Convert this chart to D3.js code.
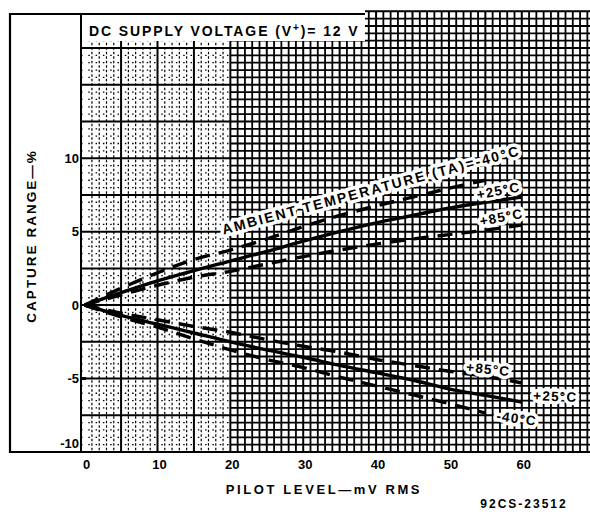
<!DOCTYPE html>
<html>
<head>
<meta charset="utf-8">
<script src="https://cdn.jsdelivr.net/npm/d3@7"></script>
<style>
  body { margin: 0; background: #fff; }
  svg { display: block; }
  text { font-family: "Liberation Sans", Arial, sans-serif; font-weight: bold; fill: #000; }
  .halo { paint-order: stroke; stroke: #fff; stroke-width: 7px; stroke-linejoin: round; }
</style>
</head>
<body>
<div id="chart"></div>
<script>
// values (capture range in %, vs pilot level in mV rms)
var pilotMv = [0, 5, 10, 15, 20, 25, 30, 35, 40, 45, 50, 55, 60];
var upperM40 = [0, 1.15, 2.2, 3.1, 3.75, 4.5, 5.35, 6.1, 6.75, 7.35, 7.95, 8.5, null];
var upper25 = [0, 0.85, 1.65, 2.35, 3.0, 3.65, 4.35, 5.0, 5.6, 6.1, 6.6, 7.0, 7.35];
var upper85 = [0, 0.7, 1.35, 1.9, 2.3, 2.8, 3.3, 3.75, 4.15, 4.5, 4.8, 5.1, 5.45];
var lower85 = [0, -0.55, -1.0, -1.45, -1.85, -2.35, -2.8, -3.2, -3.7, -4.1, -4.5, -4.85, -5.3];
var lower25 = [0, -0.7, -1.3, -1.9, -2.5, -3.05, -3.55, -4.1, -4.6, -5.1, -5.7, -6.15, -6.6];
var lowerM40 = [0, -0.8, -1.5, -2.3, -3.05, -3.7, -4.25, -4.9, -5.5, -6.1, -6.7, -7.35, null];
var xTicks = [0, 10, 20, 30, 40, 50, 60];
var yTicks = [10, 5, 0, -5, -10];

var width = 590, height = 512;
var svg = d3.select('#chart').append('svg')
  .attr('width', width)
  .attr('height', height);

var x = d3.scaleLinear().domain([-0.5, 69.5]).range([81, 591]);
var y = d3.scaleLinear().domain([-10, 20]).range([452, 11.3]);

var defs = svg.append('defs');
defs.append('clipPath').attr('id', 'light')
  .append('rect').attr('x', x(-0.5)).attr('y', 0).attr('width', x(20) - x(-0.5)).attr('height', y(-10));
defs.append('clipPath').attr('id', 'dense')
  .append('rect').attr('x', x(20)).attr('y', 0).attr('width', width - x(20)).attr('height', y(-10));

// graph paper
var gridX = d3.range(0, 70);
var gridY = d3.range(-10, 20.01, 0.5);
var grid = svg.append('g');

function drawGrid(g, dense) {
  g.selectAll('.vx').data(gridX.filter(function(d) { return d % 5 != 0; }))
    .enter().append('line')
    .attr('x1', function(d) { return x(d); }).attr('x2', function(d) { return x(d); })
    .attr('y1', y(20)).attr('y2', y(-10))
    .attr('stroke', '#000')
    .attr('stroke-width', dense ? 1.8 : 1.2)
    .attr('stroke-dasharray', dense ? null : '2.5,2');
  g.selectAll('.hy').data(gridY.filter(function(d) { return d % 2.5 != 0; }))
    .enter().append('line')
    .attr('x1', x(-0.5)).attr('x2', width)
    .attr('y1', function(d) { return y(d); }).attr('y2', function(d) { return y(d); })
    .attr('stroke', '#000')
    .attr('stroke-width', dense ? 1.8 : 1.3)
    .attr('stroke-dasharray', dense ? null : '1.5,5.8');
}
drawGrid(grid.append('g').attr('clip-path', 'url(#light)'), false);
drawGrid(grid.append('g').attr('clip-path', 'url(#dense)'), true);

grid.selectAll('.vmaj').data(gridX.filter(function(d) { return d % 5 == 0 && d > 0; }))
  .enter().append('line')
  .attr('x1', function(d) { return x(d); }).attr('x2', function(d) { return x(d); })
  .attr('y1', y(20)).attr('y2', y(-10))
  .attr('stroke', '#000').attr('stroke-width', 2);
grid.selectAll('.hmaj').data(gridY.filter(function(d) { return d % 2.5 == 0; }))
  .enter().append('line')
  .attr('x1', x(-0.5)).attr('x2', width)
  .attr('y1', function(d) { return y(d); }).attr('y2', function(d) { return y(d); })
  .attr('stroke', '#000').attr('stroke-width', 2);

// header box over the grid
svg.append('rect').attr('x', x(-0.5)).attr('y', 0)
  .attr('width', 365 - x(-0.5)).attr('height', 41).attr('fill', '#fff');
svg.append('rect').attr('x', 0).attr('y', 0).attr('width', x(-0.5)).attr('height', height).attr('fill', '#fff');

// frame
var frame = svg.append('g').attr('stroke', '#000').attr('fill', 'none');
frame.append('path').attr('stroke-width', 2.2)
  .attr('d', 'M365,14 L10,14 L10,' + y(-10) + ' L' + width + ',' + y(-10));
frame.append('line').attr('stroke-width', 2)
  .attr('x1', x(-0.5)).attr('x2', x(-0.5)).attr('y1', 14).attr('y2', y(-10));

var head = svg.append('text').attr('x', 89).attr('y', 36)
  .attr('font-size', 14).attr('letter-spacing', 1.9);
head.append('tspan').text('DC SUPPLY VOLTAGE (V');
head.append('tspan').attr('dy', -5).attr('font-size', 10).text('+');
head.append('tspan').attr('dy', 5).text(')= 12 V');

// curves
var series = [
  { vals: upperM40, dash: true },
  { vals: upper25, dash: false },
  { vals: upper85, dash: true },
  { vals: lower85, dash: true },
  { vals: lower25, dash: false },
  { vals: lowerM40, dash: true }
];
var line = d3.line()
  .defined(function(d) { return d[1] != null; })
  .x(function(d) { return x(d[0]); })
  .y(function(d) { return y(d[1]); })
  .curve(d3.curveMonotoneX);

svg.append('g').selectAll('path').data(series).enter().append('path')
  .attr('d', function(s) { return line(pilotMv.map(function(v, i) { return [v, s.vals[i]]; })); })
  .attr('fill', 'none')
  .attr('stroke', '#000')
  .attr('stroke-width', 3.4)
  .attr('stroke-dasharray', function(s) { return s.dash ? '15,9' : null; });

// curve labels
var labels = [
  { t: 'AMBIENT TEMPERATURE (TA)=-40°C', x: 39.3, y: 7.85, r: -15, size: 14, ls: 2 },
  { t: '+25°C', x: 56.8, y: 7.8, r: -11, size: 13.5, ls: 1.2 },
  { t: '+85°C', x: 57.2, y: 6.0, r: -11, size: 13.5, ls: 1.2 },
  { t: '+85°C', x: 55.4, y: -4.35, r: 6, size: 13.5, ls: 1.2 },
  { t: '+25°C', x: 64.6, y: -6.2, r: 2, size: 13.5, ls: 1.2 },
  { t: '-40°C', x: 59.3, y: -7.7, r: 8, size: 13.5, ls: 1.2 }
];
svg.append('g').selectAll('text').data(labels).enter().append('text')
  .attr('class', 'halo')
  .attr('transform', function(d) { return 'translate(' + x(d.x) + ',' + y(d.y) + ') rotate(' + d.r + ')'; })
  .attr('text-anchor', 'middle')
  .attr('dy', '0.36em')
  .attr('font-size', function(d) { return d.size; })
  .attr('letter-spacing', function(d) { return d.ls; })
  .text(function(d) { return d.t; });

// axes text
svg.append('g').selectAll('text').data(yTicks).enter().append('text')
  .attr('x', x(-0.5) - 2)
  .attr('y', function(d) { return y(d) + (d == -10 ? -9 : 0); })
  .attr('dy', '0.36em')
  .attr('text-anchor', 'end')
  .attr('font-size', 13)
  .text(function(d) { return d; });
svg.append('line').attr('x1', x(-0.5)).attr('x2', x(-0.5) + 5)
  .attr('y1', y(-5)).attr('y2', y(-5)).attr('stroke', '#000').attr('stroke-width', 3);

svg.append('g').selectAll('text').data(xTicks).enter().append('text')
  .attr('x', function(d) { return x(d) + 2; })
  .attr('y', 469)
  .attr('text-anchor', 'middle')
  .attr('font-size', 13)
  .text(function(d) { return d; });

svg.append('text')
  .attr('transform', 'translate(36,236) rotate(-90)')
  .attr('text-anchor', 'middle')
  .attr('font-size', 13.5)
  .attr('letter-spacing', 2)
  .text('CAPTURE RANGE—%');

svg.append('text').attr('x', 324).attr('y', 494)
  .attr('text-anchor', 'middle')
  .attr('font-size', 13)
  .attr('letter-spacing', 2.6)
  .text('PILOT LEVEL—mV RMS');

svg.append('text').attr('x', 524).attr('y', 508)
  .attr('text-anchor', 'middle')
  .attr('font-size', 12)
  .attr('letter-spacing', 2)
  .text('92CS-23512');
</script>
</body>
</html>
